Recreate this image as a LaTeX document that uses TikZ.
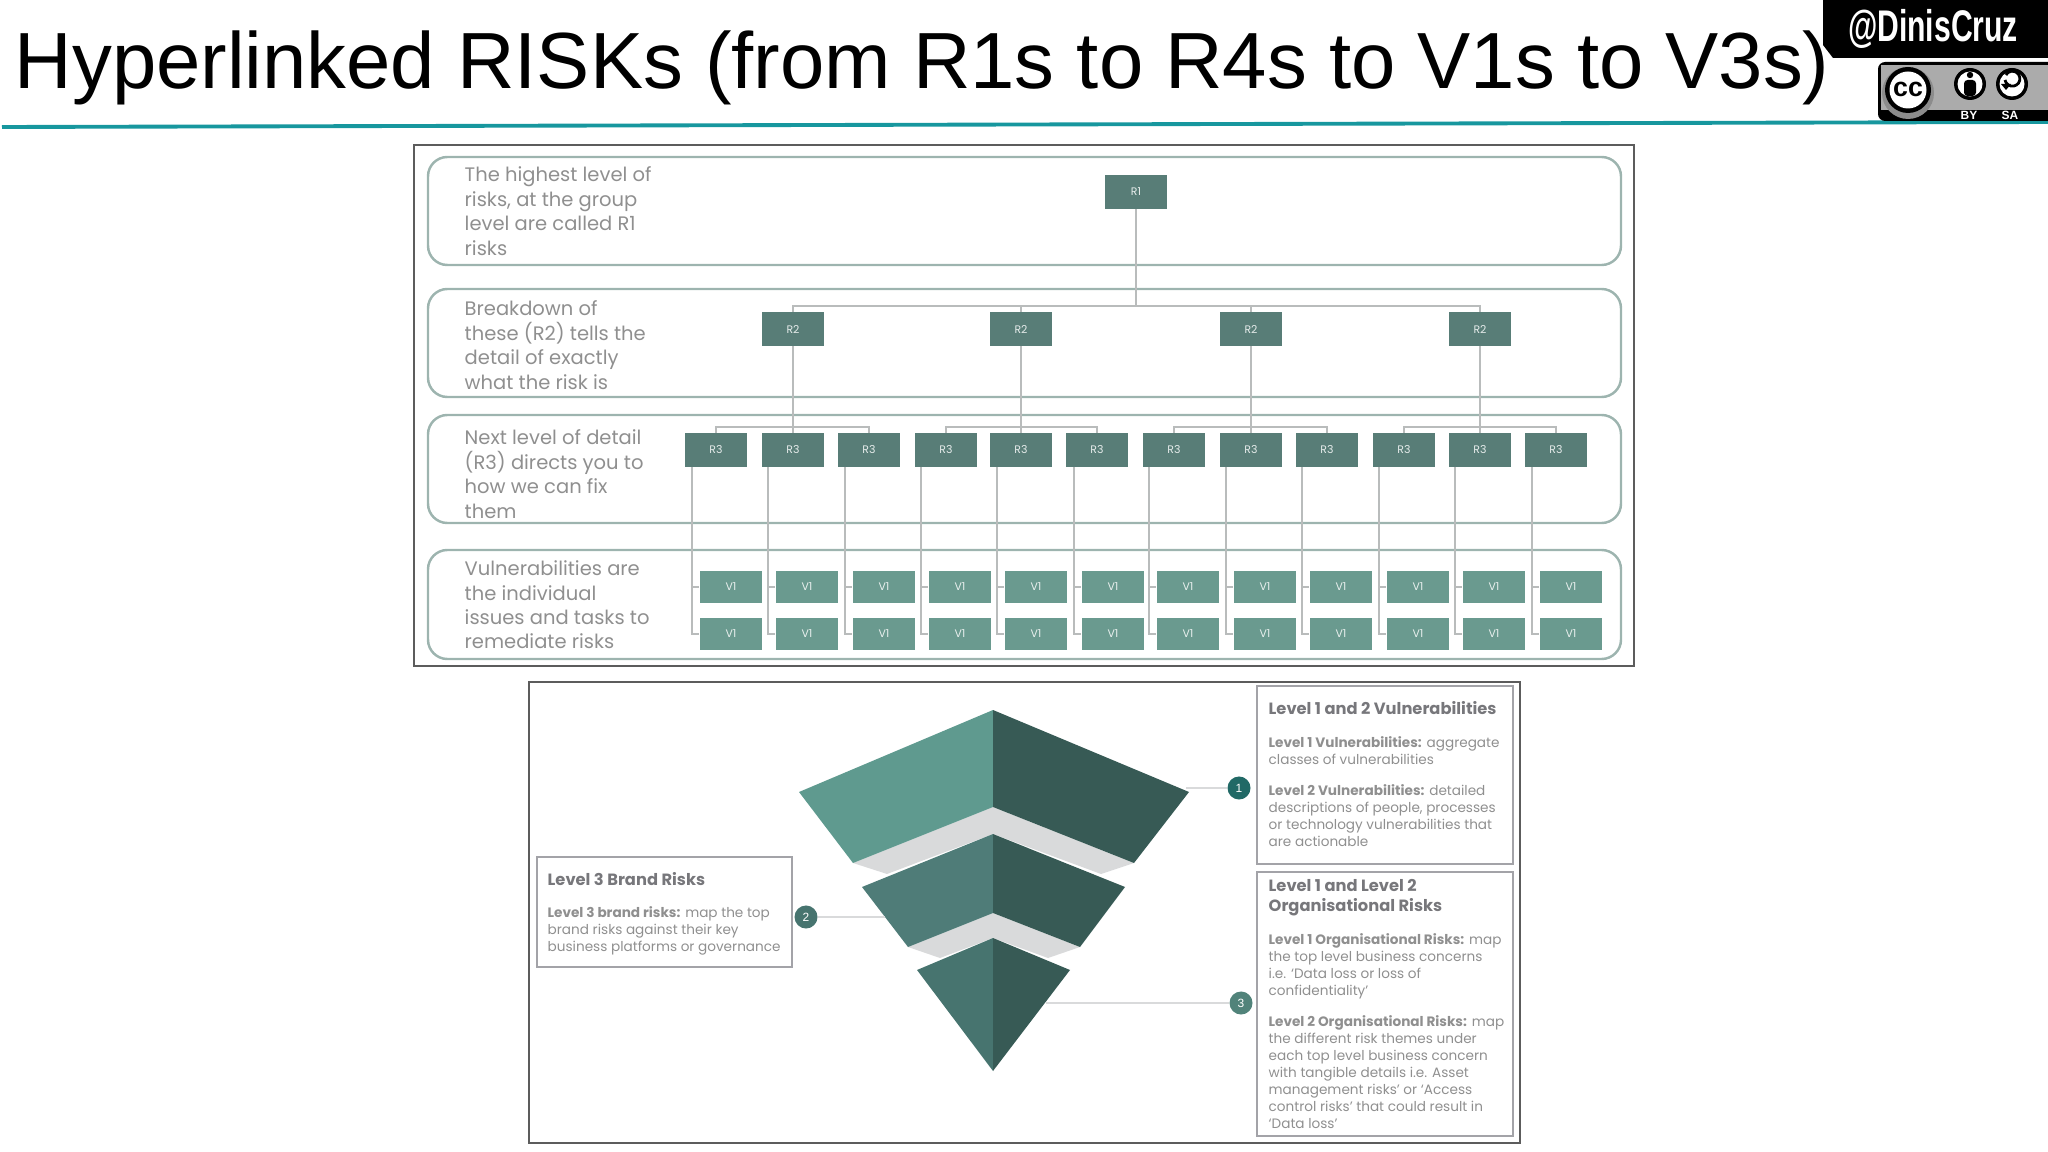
\documentclass[tikz,border=0pt]{standalone}
\usepackage{fontspec}
\usepackage{tikz}
\usetikzlibrary{positioning}
\setmainfont{Poppins}
\newfontfamily\arialfont{Liberation Sans}
\definecolor{rdark}{HTML}{587D77}
\definecolor{vlight}{HTML}{6A9A8F}
\definecolor{rimgrey}{HTML}{9DB4AF}
\definecolor{linkgrey}{HTML}{B9BCBC}
\definecolor{textgrey}{HTML}{8F8F8F}
\definecolor{headgrey}{HTML}{77777B}
\definecolor{edgegrey}{HTML}{A3A3A8}
\definecolor{framegrey}{HTML}{5C5C5C}
\definecolor{bandgrey}{HTML}{D9DADB}
\definecolor{faceone}{HTML}{5F9A8F}
\definecolor{facetwo}{HTML}{4F7C78}
\definecolor{facethree}{HTML}{47746F}
\definecolor{faceshade}{HTML}{375A55}
\definecolor{tealrule}{HTML}{17979E}
\begin{document}
\begin{tikzpicture}[x=0.01cm,y=-0.01cm,
    frame/.style={draw=framegrey,line width=0.6pt},
    panel/.style={draw=rimgrey,line width=0.7pt,rounded corners=5.5pt},
    link/.style={draw=linkgrey,line width=0.45pt},
    rbox/.style={fill=rdark,inner sep=0pt,minimum width=0.62cm,minimum height=0.33cm,text=white!85!rdark,font=\fontsize{3.1}{3.5}\selectfont},
    vbox/.style={fill=vlight,inner sep=0pt,minimum width=0.62cm,minimum height=0.32cm,text=white!85!vlight,font=\fontsize{3.1}{3.5}\selectfont},
    rowtext/.style={anchor=west,align=left,inner sep=0pt,text=textgrey,font=\fontsize{5.55}{6.95}\selectfont},
    infobox/.style={draw=edgegrey,line width=0.45pt},
    headtext/.style={anchor=north west,align=left,inner sep=0pt,text=headgrey,font=\fontsize{4.63}{5.67}\selectfont\bfseries},
    bodytext/.style={anchor=north west,align=left,inner sep=0pt,text=textgrey,font=\fontsize{3.87}{4.82}\selectfont},
    badge/.style={circle,fill=#1,inner sep=0pt,minimum size=0.23cm,text=white,font=\arialfont\fontsize{3.4}{3.4}\selectfont},
    wordcc/.style={inner sep=0pt,text=white,font=\arialfont\bfseries\fontsize{3.4}{3.4}\selectfont}]
    \useasboundingbox (0,0) rectangle (2048,1152);

    \node[anchor=base west,inner sep=0pt,font=\arialfont\fontsize{22.65}{24}\selectfont] (title) at (14,89) {Hyperlinked RISKs (from R1s to R4s to V1s to V3s)};
    \draw[tealrule,line width=1.1pt] (2,127) -- (2048,122);

    \fill[black] (1823,0) -- (1823,45) -- (1833,58) -- (2048,58) -- (2048,0) -- cycle;
    \node[text=white,inner sep=0pt,xscale=0.68,transform shape,font=\arialfont\bfseries\fontsize{12.6}{13}\selectfont] (handle) at (1933,29) {@DinisCruz};
    \fill[black,rounded corners=2pt] (1878,121) -- (1878,62) -- (2060,62) -- (2060,121) -- cycle;
    \fill[black!33] (1881,65) -- (2048,65) -- (2048,110) -- (1881,110) -- cycle;
    \fill[black!45] (1908,93) circle (26);
    \fill[black] (1908,90) circle (23);
    \fill[white] (1908,90) circle (18.5);
    \node[wordcc,text=black,font=\arialfont\bfseries\fontsize{7.6}{8}\selectfont] (cc) at (1908,89) {cc};
    \fill[black] (1970,84) circle (16);
    \fill[white] (1970,84) circle (12.5);
    \fill[black] (1970,75) circle (3.2);
    \fill[black,rounded corners=1pt] (1964,80) rectangle (1976,96);
    \fill[black] (2012,84) circle (16);
    \fill[white] (2012,84) circle (12.5);
    \draw[black,line width=0.8pt] (2005,80) arc (170:-150:7.5);
    \fill[black] (2001,84) -- (2011,84) -- (2006,90) -- cycle;
    \node[wordcc] (by) at (1969,115) {BY};
    \node[wordcc] (sa) at (2010,115) {SA};

    \draw[frame] (414,145) rectangle (1634,666);
    \draw[panel] (428,157) rectangle (1621,265);
    \draw[panel] (428,289) rectangle (1621,397);
    \draw[panel] (428,415) rectangle (1621,523);
    \draw[panel] (428,550) rectangle (1621,659);

    \node[rowtext] (rowone) at (464,211) {The highest level of\\risks, at the group\\level are called R1\\risks};
    \node[rowtext] (rowtwo) at (464,345) {Breakdown of\\these (R2) tells the\\detail of exactly\\what the risk is};
    \node[rowtext] (rowthree) at (464,474) {Next level of detail\\(R3) directs you to\\how we can fix\\them};
    \node[rowtext] (rowfour) at (464,605) {Vulnerabilities are\\the individual\\issues and tasks to\\remediate risks};

    \coordinate (bus) at (1136,306);
    \coordinate (busa) at (793,427);
    \coordinate (busb) at (1021,427);
    \coordinate (busc) at (1251,427);
    \coordinate (busd) at (1480,427);

    \node[rbox] (r1) at (1136,192) {R1};
    \node[rbox] (r2a) at (793,329) {R2};
    \node[rbox] (r2b) at (1021,329) {R2};
    \node[rbox] (r2c) at (1251,329) {R2};
    \node[rbox] (r2d) at (1480,329) {R2};
    \node[rbox] (r3a) at (716,450) {R3};
    \node[rbox] (r3b) at (793,450) {R3};
    \node[rbox] (r3c) at (869,450) {R3};
    \node[rbox] (r3d) at (946,450) {R3};
    \node[rbox] (r3e) at (1021,450) {R3};
    \node[rbox] (r3f) at (1097,450) {R3};
    \node[rbox] (r3g) at (1174,450) {R3};
    \node[rbox] (r3h) at (1251,450) {R3};
    \node[rbox] (r3i) at (1327,450) {R3};
    \node[rbox] (r3j) at (1404,450) {R3};
    \node[rbox] (r3k) at (1480,450) {R3};
    \node[rbox] (r3l) at (1556,450) {R3};
    \node[vbox] (va) at (731,587) {V1};
    \node[vbox] (vb) at (807,587) {V1};
    \node[vbox] (vc) at (884,587) {V1};
    \node[vbox] (vd) at (960,587) {V1};
    \node[vbox] (ve) at (1036,587) {V1};
    \node[vbox] (vf) at (1113,587) {V1};
    \node[vbox] (vg) at (1188,587) {V1};
    \node[vbox] (vh) at (1265,587) {V1};
    \node[vbox] (vi) at (1341,587) {V1};
    \node[vbox] (vj) at (1418,587) {V1};
    \node[vbox] (vk) at (1494,587) {V1};
    \node[vbox] (vl) at (1571,587) {V1};
    \node[vbox] (wa) at (731,634) {V1};
    \node[vbox] (wb) at (807,634) {V1};
    \node[vbox] (wc) at (884,634) {V1};
    \node[vbox] (wd) at (960,634) {V1};
    \node[vbox] (we) at (1036,634) {V1};
    \node[vbox] (wf) at (1113,634) {V1};
    \node[vbox] (wg) at (1188,634) {V1};
    \node[vbox] (wh) at (1265,634) {V1};
    \node[vbox] (wi) at (1341,634) {V1};
    \node[vbox] (wj) at (1418,634) {V1};
    \node[vbox] (wk) at (1494,634) {V1};
    \node[vbox] (wl) at (1571,634) {V1};

    \coordinate (ta) at (692,467);
    \coordinate (tb) at (768,467);
    \coordinate (tc) at (845,467);
    \coordinate (td) at (921,467);
    \coordinate (te) at (997,467);
    \coordinate (tf) at (1074,467);
    \coordinate (tg) at (1149,467);
    \coordinate (th) at (1226,467);
    \coordinate (ti) at (1302,467);
    \coordinate (tj) at (1379,467);
    \coordinate (tk) at (1455,467);
    \coordinate (tl) at (1532,467);

    \draw[link] (r1) -- (bus);
    \draw[link] (r2a) |- (bus) -| (r2d);
    \draw[link] (r2b) |- (bus) -| (r2c);
    \draw[link] (r2a) -- (r3b);
    \draw[link] (r2b) -- (r3e);
    \draw[link] (r2c) -- (r3h);
    \draw[link] (r2d) -- (r3k);
    \draw[link] (r3a) |- (busa) -| (r3c);
    \draw[link] (r3d) |- (busb) -| (r3f);
    \draw[link] (r3g) |- (busc) -| (r3i);
    \draw[link] (r3j) |- (busd) -| (r3l);
    \draw[link] (ta) |- (va) (ta) |- (wa);
    \draw[link] (tb) |- (vb) (tb) |- (wb);
    \draw[link] (tc) |- (vc) (tc) |- (wc);
    \draw[link] (td) |- (vd) (td) |- (wd);
    \draw[link] (te) |- (ve) (te) |- (we);
    \draw[link] (tf) |- (vf) (tf) |- (wf);
    \draw[link] (tg) |- (vg) (tg) |- (wg);
    \draw[link] (th) |- (vh) (th) |- (wh);
    \draw[link] (ti) |- (vi) (ti) |- (wi);
    \draw[link] (tj) |- (vj) (tj) |- (wj);
    \draw[link] (tk) |- (vk) (tk) |- (wk);
    \draw[link] (tl) |- (vl) (tl) |- (wl);

    \draw[frame] (529,682) rectangle (1520,1143);

    \fill[bandgrey] (853,863) -- (993,807) -- (1134,863) -- (1101,874) -- (993,834) -- (887,874) -- cycle;
    \fill[bandgrey] (908,947) -- (993,913) -- (1080,947) -- (1048,958) -- (993,938) -- (940,958) -- cycle;
    \fill[faceone] (993,710) -- (799,792) -- (853,863) -- (993,807) -- cycle;
    \fill[faceshade] (993,710) -- (1189,792) -- (1134,863) -- (993,807) -- cycle;
    \fill[facetwo] (993,834) -- (862,887) -- (908,947) -- (993,913) -- cycle;
    \fill[faceshade] (993,834) -- (1125,887) -- (1080,947) -- (993,913) -- cycle;
    \fill[facethree] (993,938) -- (917,970) -- (993,1071) -- cycle;
    \fill[faceshade] (993,938) -- (1070,970) -- (993,1071) -- cycle;

    \coordinate (pone) at (1186,788);
    \coordinate (ptwo) at (885,917);
    \coordinate (pthree) at (1046,1003);
    \node[badge=faceshade!60!teal] (numone) at (1239,788) {1};
    \node[badge=facethree] (numtwo) at (806,917) {2};
    \node[badge=faceone!85!black] (numthree) at (1241,1003) {3};
    \draw[link,draw=bandgrey,line width=0.5pt] (pone) -- (numone);
    \draw[link,draw=bandgrey,line width=0.5pt] (ptwo) -- (numtwo);
    \draw[link,draw=bandgrey,line width=0.5pt] (pthree) -- (numthree);

    \draw[infobox] (537,857) rectangle (792,967);
    \draw[infobox] (1257,686) rectangle (1513,864);
    \draw[infobox] (1257,872) rectangle (1513,1136);

    \node[headtext] (brandhead) at (547,872) {Level 3 Brand Risks};
    \node[bodytext] (brandbody) at (547,906) {\textbf{Level 3 brand risks:} map the top\\brand risks against their key\\business platforms or governance};
    \node[headtext] (vulnhead) at (1268,701) {Level 1 and 2 Vulnerabilities};
    \node[bodytext] (vulnone) at (1268,736) {\textbf{Level 1 Vulnerabilities:} aggregate\\classes of vulnerabilities};
    \node[bodytext] (vulntwo) at (1268,784) {\textbf{Level 2 Vulnerabilities:} detailed\\descriptions of people, processes\\or technology vulnerabilities that\\are actionable};
    \node[headtext] (orghead) at (1268,879) {Level 1 and Level 2\\Organisational Risks};
    \node[bodytext] (orgone) at (1268,933) {\textbf{Level 1 Organisational Risks:} map\\the top level business concerns\\i.e. ‘Data loss or loss of\\confidentiality’};
    \node[bodytext] (orgtwo) at (1268,1015) {\textbf{Level 2 Organisational Risks:} map\\the different risk themes under\\each top level business concern\\with tangible details i.e. Asset\\management risks’ or ‘Access\\control risks’ that could result in\\‘Data loss’};
\end{tikzpicture}
\end{document}
